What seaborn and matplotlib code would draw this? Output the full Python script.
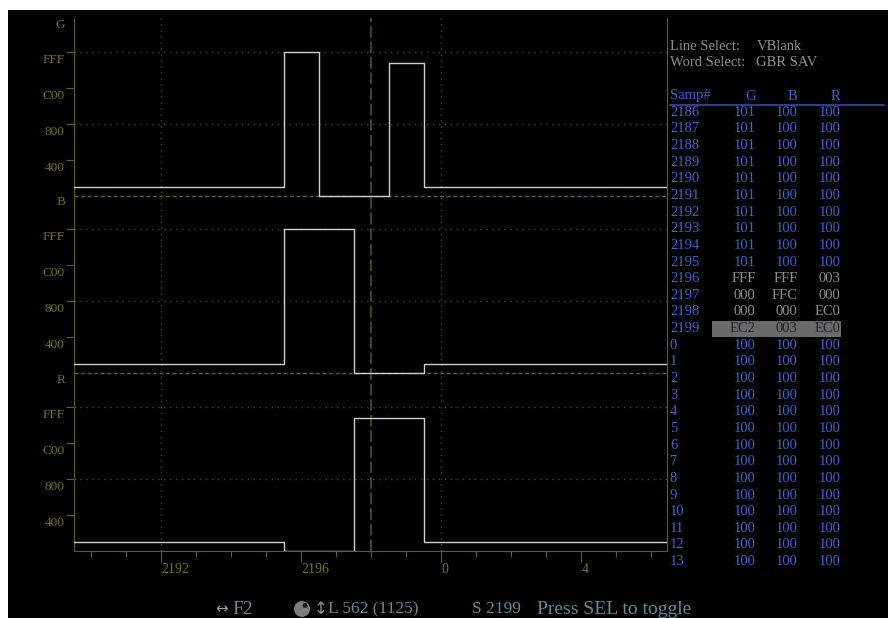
import numpy as np
import pandas as pd
import seaborn as sns
import matplotlib.pyplot as plt
import matplotlib.transforms as mtransforms
from matplotlib.patches import Rectangle, Ellipse
from matplotlib.lines import Line2D

# Sample numbers shown in the table / on the x axis (line wraps at 2200)
samples = [2186, 2187, 2188, 2189, 2190, 2191, 2192, 2193, 2194, 2195,
           2196, 2197, 2198, 2199, 0, 1, 2, 3, 4, 5, 6, 7, 8, 9, 10, 11, 12, 13]
g_vals = ['101', '101', '101', '101', '101', '101', '101', '101', '101', '101',
          'FFF', '000', '000', 'EC2',
          '100', '100', '100', '100', '100', '100', '100', '100', '100', '100', '100', '100', '100', '100']
b_vals = ['100', '100', '100', '100', '100', '100', '100', '100', '100', '100',
          'FFF', 'FFC', '000', '003',
          '100', '100', '100', '100', '100', '100', '100', '100', '100', '100', '100', '100', '100', '100']
r_vals = ['100', '100', '100', '100', '100', '100', '100', '100', '100', '100',
          '003', '000', 'EC0', 'EC0',
          '100', '100', '100', '100', '100', '100', '100', '100', '100', '100', '100', '100', '100', '100']
channels = ['G', 'B', 'R']
level_labels = ['400', '800', 'C00', 'FFF']
grid_levels = ['800', 'FFF']
x_tick_samples = [2192, 2196, 0, 4]
x_grid_samples = [2192, 0]
cursor_sample = 2198
gray_samples = [2196, 2197, 2198, 2199]
highlight_sample = 2199

# colours
olive = '#5e5e16'
olive_txt = '#707020'
grid_c = '#4c4c12'
trace_c = '#cfcfcf'
blue = '#3d63d0'
gray_txt = '#8e8e8e'
status_c = '#5f8c93'

PANEL = 5053  # height of one channel strip in code values

sns.set_theme(style='dark')
plt.rcParams['font.family'] = ['Liberation Serif', 'DejaVu Sans']

W, H = 888, 618
fig = plt.figure(figsize=(W / 100, H / 100), dpi=100, facecolor='white')
fig.add_artist(Rectangle((8 / W, 0), 1 - 8 / W, 1 - 10 / H, transform=fig.transFigure,
                         facecolor='black', edgecolor='none', zorder=-10))

def fx(px):
    return px / W

def fy(py):
    return 1 - py / H

ax = fig.add_axes([74 / W, (H - 551) / H, 593 / W, 533 / H])
ax.set_facecolor('black')

# build long table of the three channels
offsets = {'G': 2 * PANEL, 'B': PANEL, 'R': 0}
vals = {'G': g_vals, 'B': b_vals, 'R': r_vals}
rows = []
for ch in channels:
    for i, s in enumerate(samples):
        rows.append({'pos': i, 'sample': s, 'channel': ch,
                     'level': int(vals[ch][i], 16) + offsets[ch]})
df = pd.DataFrame(rows)

for ch in channels:
    sns.lineplot(data=df[df['channel'] == ch], x='pos', y='level', ax=ax,
                 color=trace_c, lw=1.0, drawstyle='steps-mid', estimator=None, zorder=5)

pos_of = {s: i for i, s in enumerate(samples)}

# graticule
for ch in channels:
    for lab in grid_levels:
        ax.axhline(offsets[ch] + int(lab, 16), color=grid_c, lw=1, ls=(0, (1, 3.3)), zorder=1)
    if offsets[ch] > 0:
        ax.axhline(offsets[ch], color=olive, lw=1, ls=(0, (3, 1.7)), zorder=2)
for s in x_grid_samples:
    ax.axvline(pos_of[s], color=grid_c, lw=1, ls=(0, (1, 3.3)), zorder=1)
ax.axvline(pos_of[cursor_sample], color='#45451a', lw=1.4, ls=(0, (6, 2)), zorder=3)

# y ticks / labels
yt, yl = [], []
for ch in channels:
    for lab in level_labels:
        yt.append(offsets[ch] + int(lab, 16))
        yl.append(lab)
ax.set_yticks(yt)
ax.set_yticklabels(yl, fontsize=9.5, color=olive_txt)
ax.tick_params(axis='y', which='major', length=6, width=0.8, color=olive, pad=0.8, direction='out')
shift = mtransforms.ScaledTranslation(0, -0.065, fig.dpi_scale_trans)
for t in ax.get_yticklabels():
    t.set_transform(t.get_transform() + shift)
for ch in channels:
    ax.text(-9 / 593, offsets[ch] + PANEL, ch, transform=ax.get_yaxis_transform() + shift,
            ha='right', va='center', fontsize=9.5, color=olive_txt)

# x ticks / labels
ax.set_xticks([pos_of[s] for s in x_tick_samples])
ax.set_xticklabels([str(s) for s in x_tick_samples], fontsize=10, color=olive_txt, ha='left')
ax.set_xticks(range(len(samples)), minor=True)
ax.tick_params(axis='x', which='major', length=7.7, width=0.8, color=olive, pad=0.8, direction='out')
ax.tick_params(axis='x', which='minor', length=4.1, width=0.8, color=olive, direction='out')
ax.tick_params(axis='x', which='both', bottom=True)
ax.tick_params(axis='y', which='both', left=True)
ax.set_xlabel('')
ax.set_ylabel('')
ax.grid(False)

# limits last so tick setting does not widen the view
ax.set_xlim(3.5, 20.45)
ax.set_ylim(0, 3 * PANEL)

for side in ['left', 'bottom', 'right']:
    ax.spines[side].set_visible(True)
    ax.spines[side].set_color(olive)
    ax.spines[side].set_linewidth(0.8)
ax.spines['top'].set_visible(False)

# right-hand panel: selection info and sample table
fs = 10.5
fig.text(fx(670), fy(46), 'Line Select:', color=gray_txt, fontsize=fs, va='center')
fig.text(fx(757), fy(46), 'VBlank', color=gray_txt, fontsize=fs, va='center')
fig.text(fx(670), fy(62.5), 'Word Select:', color=gray_txt, fontsize=fs, va='center')
fig.text(fx(756), fy(62.5), 'GBR SAV', color=gray_txt, fontsize=fs, va='center')

col_right = [755.5, 797.5, 840.5]
fig.text(fx(670), fy(96), 'Samp#', color=blue, fontsize=fs, va='center')
for ch, xr in zip(channels, col_right):
    fig.text(fx(xr), fy(96), ch, color=blue, fontsize=fs, va='center', ha='right')
fig.add_artist(Line2D([fx(670), fx(884)], [fy(104.5), fy(104.5)], color='#2c3f8c', lw=1.5,
                      transform=fig.transFigure))

row0, dy = 112.3, 16.64
for i, s in enumerate(samples):
    y = row0 + i * dy
    fig.text(fx(670), fy(y), str(s), color=blue, fontsize=fs, va='center')
    c = gray_txt if s in gray_samples else blue
    if s == highlight_sample:
        fig.add_artist(Rectangle((fx(712.3), fy(y + 8.5)), fx(840.7) - fx(712.3), 16 / H,
                                 transform=fig.transFigure, facecolor='#6a6a6a',
                                 edgecolor='none', zorder=1))
        c = '#202028'
    for ch, xr in zip(channels, col_right):
        fig.text(fx(xr), fy(y), vals[ch][i], color=c, fontsize=fs, va='center', ha='right', zorder=2)

# status line
sy = fy(609)
fig.text(fx(215), sy, '↔', color='#9a9a9a', fontsize=11, va='center', family='DejaVu Sans')
fig.text(fx(232), sy, 'F2', color=status_c, fontsize=14, va='center')
# knob icon
fig.add_artist(Ellipse((fx(302), fy(609)), 16 / W, 16 / H, transform=fig.transFigure,
                       facecolor='#7c7c7c', edgecolor='none'))
fig.add_artist(Ellipse((fx(305), fy(605.5)), 5 / W, 5 / H, transform=fig.transFigure,
                       facecolor='#1c1c1c', edgecolor='none'))
fig.text(fx(314), sy, '↕', color='#8a8a8a', fontsize=12, va='center', family='DejaVu Sans')
fig.text(fx(327.5), sy, 'L 562 (1125)', color=status_c, fontsize=12.5, va='center')
fig.text(fx(472), sy, 'S 2199', color=status_c, fontsize=12.5, va='center')
fig.text(fx(537), sy, 'Press SEL to toggle', color=status_c, fontsize=14, va='center')

fig.savefig('out.png', dpi=100, facecolor='white')
